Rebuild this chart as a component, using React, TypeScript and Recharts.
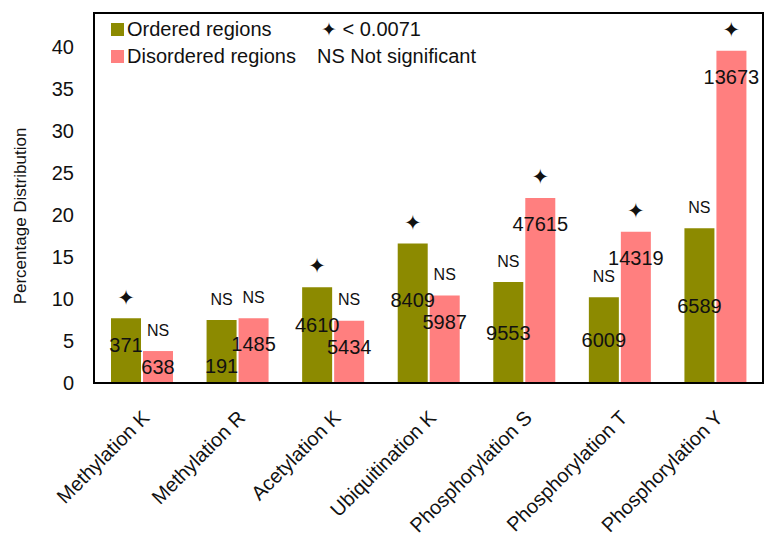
import React from 'react';
import { BarChart, Bar, XAxis, YAxis, LabelList, Legend, ReferenceArea } from 'recharts';

const categories = [
  'Methylation K',
  'Methylation R',
  'Acetylation K',
  'Ubiquitination K',
  'Phosphorylation S',
  'Phosphorylation T',
  'Phosphorylation Y',
];
const orderedPct = [7.7, 7.5, 11.4, 16.6, 12.0, 10.2, 18.4];
const disorderedPct = [3.8, 7.7, 7.4, 10.4, 22.0, 18.0, 39.5];
const orderedCounts = [371, 191, 4610, 8409, 9553, 6009, 6589];
const disorderedCounts = [638, 1485, 5434, 5987, 47615, 14319, 13673];
const orderedSig = ['✦', 'NS', '✦', '✦', 'NS', 'NS', 'NS'];
const disorderedSig = ['NS', 'NS', 'NS', 'NS', '✦', '✦', '✦'];
const yTicks = [0, 5, 10, 15, 20, 25, 30, 35, 40];

const ORDERED = '#8c8a00';
const DISORDERED = '#ff7f7f';
const FONT = '"Liberation Sans", Arial, sans-serif';
const STAR_FONT = '"DejaVu Sans", sans-serif';

const rows = categories.map((name, i) => ({
  name,
  ordered: orderedPct[i],
  disordered: disorderedPct[i],
  oSig: orderedSig[i],
  dSig: disorderedSig[i],
}));

// counts go inside the bars; the ordered one dodges the disordered one
const CountLabel = (props: any) => {
  const { x, y, width, height, value, series } = props;
  const i = categories.indexOf(value);
  const own = series === 'o' ? orderedPct[i] : disorderedPct[i];
  const pxPerUnit = height / own;
  const base = y + height;
  const dH = disorderedPct[i] * pxPerUnit;
  const dY = base - dH + Math.min(dH / 2, 26);
  let cy = dY;
  if (series === 'o') {
    cy = y + height / 2;
    if (Math.abs(cy - dY) < 22) {
      cy = dY - 22 >= y + 10 ? dY - 22 : dY + 22;
    }
  }
  const count = series === 'o' ? orderedCounts[i] : disorderedCounts[i];
  return (
    <text x={x + width / 2} y={cy} dy="0.35em" textAnchor="middle"
      fontFamily={FONT} fontSize={20} fill="#111">
      {count}
    </text>
  );
};

const SigLabel = (props: any) => {
  const { x, y, width, value } = props;
  const star = value === '✦';
  return (
    <text x={x + width / 2} y={y - 21} dy="0.35em" textAnchor="middle"
      fontFamily={star ? STAR_FONT : FONT}
      fontSize={star ? 21 : 16} fill="#111">
      {value}
    </text>
  );
};

const XTick = (props: any) => {
  const { x, y, payload } = props;
  const ax = x + 9;
  const ay = y + 28;
  return (
    <text x={ax} y={ay} textAnchor="end" fontFamily={FONT} fontSize={20}
      fill="#111" transform={`rotate(-45, ${ax}, ${ay})`}>
      {payload.value}
    </text>
  );
};

const YTitle = (props: any) => {
  const vb = props.viewBox;
  const cx = 20;
  const cy = vb.y + vb.height / 2 + 18;
  return (
    <text x={cx} y={cy} dy="0.35em" textAnchor="middle" fontFamily={FONT} fontSize={17}
      fill="#111" transform={`rotate(-90, ${cx}, ${cy})`}>
      Percentage Distribution
    </text>
  );
};

const sq = (c: string) => (
  <span style={{ display: 'inline-block', width: 13, height: 13, background: c, marginRight: 3 }} />
);

const LegendBox = () => (
  <div style={{ fontFamily: FONT, fontSize: 20, color: '#111', lineHeight: '27px', whiteSpace: 'nowrap' }}>
    <div style={{ display: 'flex', alignItems: 'center' }}>
      <div style={{ width: 206, display: 'flex', alignItems: 'center' }}>{sq(ORDERED)}Ordered regions</div>
      <div style={{ paddingLeft: 4 }}><span style={{ fontFamily: STAR_FONT, fontSize: 19 }}>✦</span> &lt; 0.0071</div>
    </div>
    <div style={{ display: 'flex', alignItems: 'center' }}>
      <div style={{ width: 206, display: 'flex', alignItems: 'center' }}>{sq(DISORDERED)}Disordered regions</div>
      <div>NS Not significant</div>
    </div>
  </div>
);

export default function App() {
  return (
    <div style={{ position: 'absolute', left: 0, top: 0, width: 779, height: 540, background: '#fff' }}>
      <BarChart width={779} height={540} data={rows}
        margin={{ top: 13, right: 16, bottom: 0, left: 0 }}
        barSize={30} barGap={2}>
        <XAxis dataKey="name" height={157} tickLine={false} interval={0}
          axisLine={{ stroke: '#000', strokeWidth: 2 }} tick={<XTick />} />
        <YAxis width={94} domain={[0, 44]} ticks={yTicks} tickLine={false}
          tickSize={0} tickMargin={20} allowDataOverflow
          axisLine={{ stroke: '#000', strokeWidth: 2 }}
          tick={{ fill: '#111', fontSize: 20, fontFamily: FONT }}
          label={<YTitle />} />
        <ReferenceArea y1={0} y2={44} fill="none" stroke="#000" strokeWidth={2}
          ifOverflow="visible" />
        <Legend layout="horizontal" verticalAlign="middle" align="center" content={<LegendBox />}
          wrapperStyle={{ position: 'absolute', left: 111, top: 16, width: 440, height: 60 }} />
        <Bar dataKey="ordered" fill={ORDERED} isAnimationActive={false}>
          <LabelList dataKey="name" content={<CountLabel series="o" />} />
          <LabelList dataKey="oSig" content={<SigLabel />} />
        </Bar>
        <Bar dataKey="disordered" fill={DISORDERED} isAnimationActive={false}>
          <LabelList dataKey="name" content={<CountLabel series="d" />} />
          <LabelList dataKey="dSig" content={<SigLabel />} />
        </Bar>
      </BarChart>
    </div>
  );
}
